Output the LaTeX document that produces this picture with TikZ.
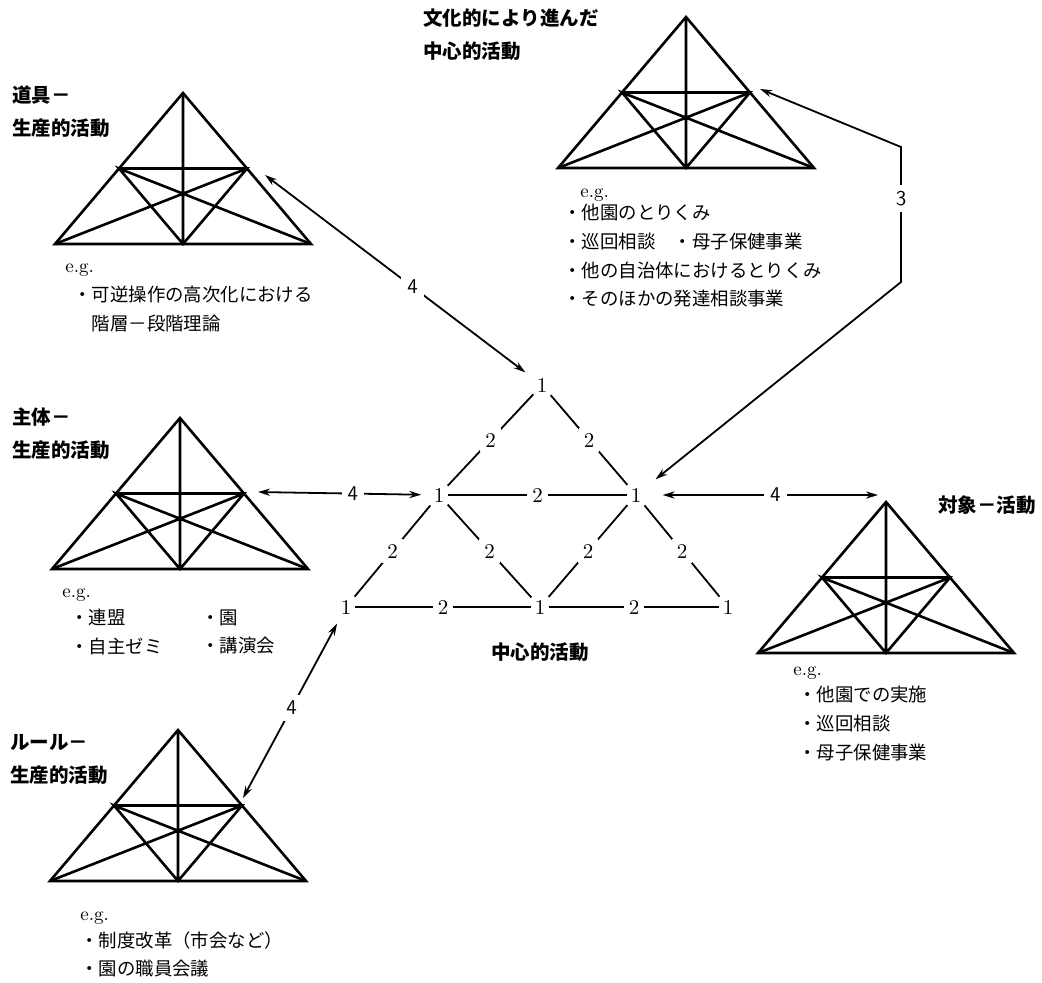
\documentclass[tikz,border=0pt]{standalone}
\usepackage{fontspec}
\usepackage{tikz}
\usetikzlibrary{arrows.meta,calc}
\newfontfamily\jp{Noto Sans CJK JP}

\tikzset{
  tri/.pic={
    \coordinate (-a) at (0,0);
    \coordinate (-l) at (-128,151);
    \coordinate (-r) at (128,151);
    \coordinate (-m) at (0,151);
    \coordinate (-ml) at (-64,75.5);
    \coordinate (-mr) at (64,75.5);
    \draw[triline] (-a) -- (-l) -- (-r) -- cycle;
    \draw[triline] (-a) -- (-m) (-ml) -- (-mr) -- (-m) -- (-ml) -- (-r) (-mr) -- (-l);
  }
}

\begin{document}
\begin{tikzpicture}[x=0.5pt,y=-0.5pt,
    triline/.style={line width=1.3pt},
    one/.style={font=\fontsize{10.5}{12}\selectfont, inner sep=1.5pt},
    two/.style={font=\fontsize{10.5}{12}\selectfont, fill=white, inner sep=2.5pt},
    four/.style={font=\sffamily\fontsize{10.5}{12}\selectfont, fill=white, inner sep=3pt},
    link/.style={line width=0.9pt},
    arr/.style={<->, >={Stealth[length=6pt,width=3.6pt]}, line width=0.9pt},
    ttl/.style={font=\jp\bfseries\fontsize{9.75}{16.5}\selectfont, align=left, inner sep=0pt, anchor=north west},
    lst/.style={font=\jp\fontsize{9.2}{14.3}\selectfont, align=left, inner sep=0pt, anchor=north west},
    eg/.style={font=\fontsize{9.5}{12}\selectfont, inner sep=0pt, anchor=base west}]
  \useasboundingbox (0,0) rectangle (1042,982);

  % the five small triangles
  \pic (dogu) at (183,93) {tri};
  \pic (bunka) at (686,17) {tri};
  \pic (shutai) at (180,418) {tri};
  \pic (taisho) at (886,502) {tri};
  \pic (rule) at (178,730) {tri};

  \coordinate (dogu-in) at ($(dogu-mr)+(18,6.5)$);
  \coordinate (bunka-in) at ($(bunka-mr)+(10,-3.5)$);
  \coordinate (shutai-in) at ($(shutai-mr)+(14,-1.5)$);
  \coordinate (taisho-in) at ($(taisho-a)+(-8,-7)$);
  \coordinate (rule-in) at ($(rule-mr)+(1,-7.5)$);
  \coordinate (bend1) at (901,147);
  \coordinate (bend2) at (901,282);

  % central activity
  \node[one] (top) at (542,385) {1};
  \node[one] (ml) at (439,495) {1};
  \node[one] (mr) at (636,495) {1};
  \node[one] (bl) at (346,607) {1};
  \node[one] (bm) at (540,607) {1};
  \node[one] (br) at (728,607) {1};

  \draw[link] (top) -- node[two] {2} (ml);
  \draw[link] (top) -- node[two] {2} (mr);
  \draw[link] (ml) -- node[two] {2} (mr);
  \draw[link] (ml) -- node[two] {2} (bl);
  \draw[link] (ml) -- node[two] {2} (bm);
  \draw[link] (mr) -- node[two] {2} (bm);
  \draw[link] (mr) -- node[two] {2} (br);
  \draw[link] (bl) -- node[two] {2} (bm);
  \draw[link] (bm) -- node[two] {2} (br);

  \draw[arr, shorten >=5pt] (dogu-in) -- node[four, pos=.55] {4} (top);
  \draw[arr, shorten >=4.5pt] (shutai-in) -- node[four, pos=.55] {4} (ml);
  \draw[arr, shorten <=9pt] (mr) -- node[four, pos=.56] {4} (taisho-in);
  \draw[arr, shorten >=3.5pt] (rule-in) -- node[four] {4} (bl);
  \draw[arr, shorten >=7pt] (bunka-in) -- (bend1) -- node[four, pos=.38] {3} (bend2) -- (mr);

  % titles
  \node[ttl] (dogu-t) at (12,85) {道具－\\生産的活動};
  \node[ttl] (bunka-t) at (423,8) {文化的により進んだ\\中心的活動};
  \node[ttl] (shutai-t) at (12,407) {主体－\\生産的活動};
  \node[ttl, anchor=west] (taisho-t) at (938,505) {対象－活動};
  \node[ttl] (rule-t) at (10,734) {ルール－\\生産的活動};
  \node[ttl, anchor=center] (center-t) at (540,652) {中心的活動};

  % examples
  \node[eg] (dogu-eg) at (65,272) {e.g.};
  \node[lst] (dogu-l) at (73,286) {・可逆操作の高次化における\\　階層－段階理論};
  \node[eg] (bunka-eg) at (580,197) {e.g.};
  \node[lst] (bunka-l) at (563,204) {・他園のとりくみ\\・巡回相談　・母子保健事業\\・他の自治体におけるとりくみ\\・そのほかの発達相談事業};
  \node[eg] (shutai-eg) at (62,597) {e.g.};
  \node[lst] (shutai-l) at (70,609) {・連盟\\・自主ゼミ};
  \node[lst] (shutai-r) at (201,609) {・園\\・講演会};
  \node[eg] (taisho-eg) at (793,675) {e.g.};
  \node[lst] (taisho-l) at (798,686) {・他園での実施\\・巡回相談\\・母子保健事業};
  \node[eg] (rule-eg) at (80,920) {e.g.};
  \node[lst] (rule-l) at (80,931) {・制度改革（市会など）\\・園の職員会議};
\end{tikzpicture}
\end{document}
